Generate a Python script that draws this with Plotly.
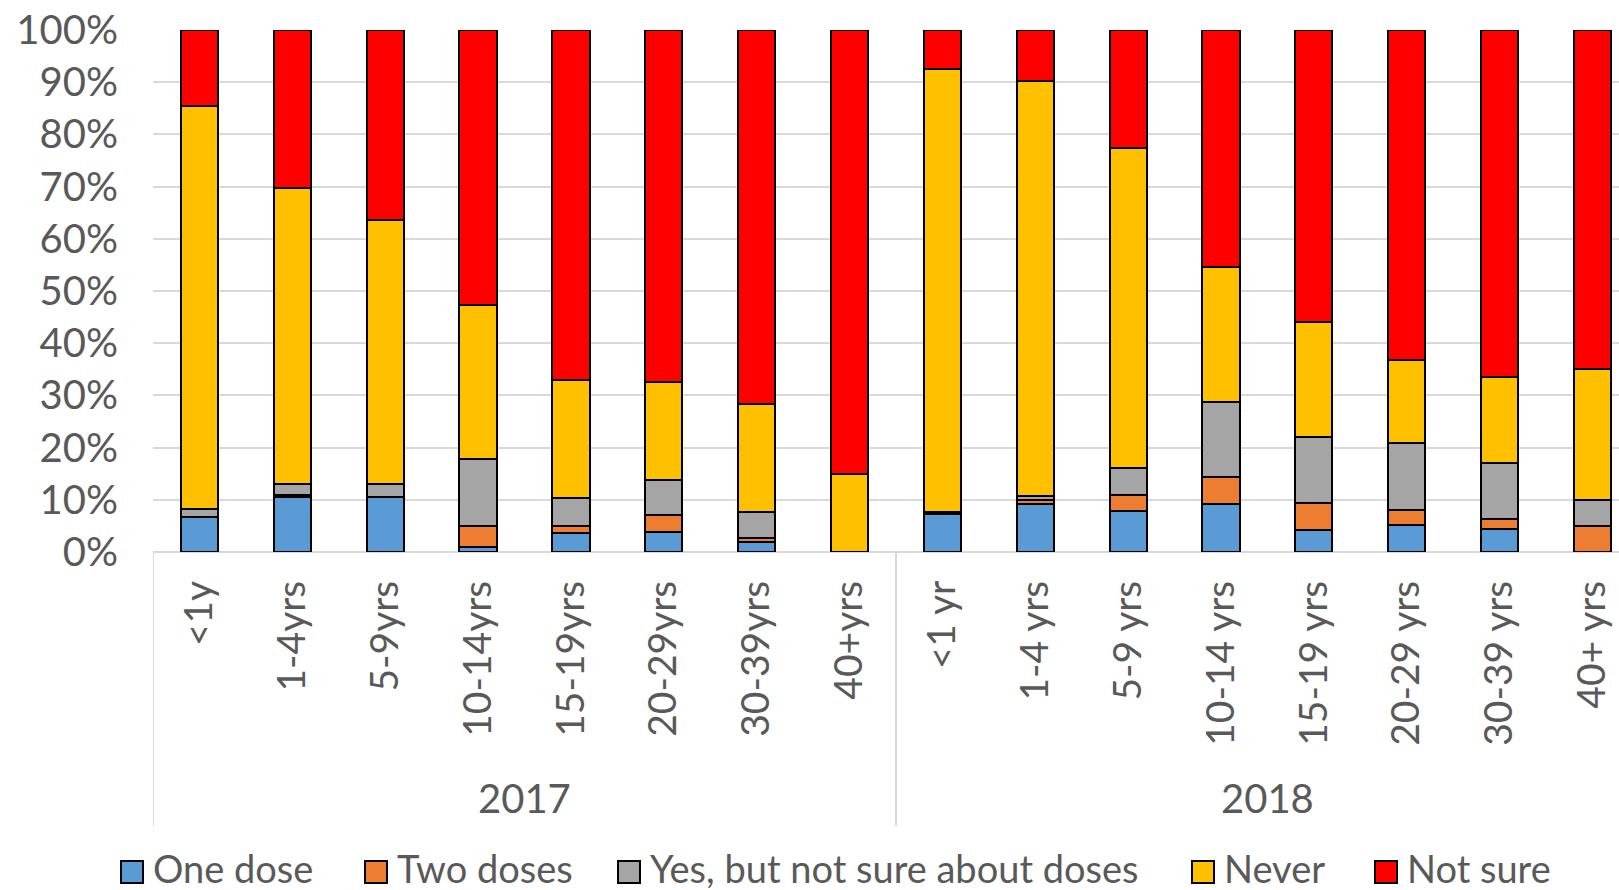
import plotly.graph_objects as go

categories = ["<1y", "1-4yrs", "5-9yrs", "10-14yrs", "15-19yrs", "20-29yrs", "30-39yrs", "40+yrs",
              "<1 yr", "1-4 yrs", "5-9 yrs", "10-14 yrs", "15-19 yrs", "20-29 yrs", "30-39 yrs", "40+ yrs"]
years = ["2017", "2018"]

one_dose = [6.8, 10.6, 10.5, 1.0, 3.7, 3.9, 2.0, 0.0, 7.3, 9.2, 7.9, 9.2, 4.2, 5.1, 4.4, 0.0]
two_doses = [0.0, 0.4, 0.0, 4.0, 1.3, 3.2, 0.6, 0.0, 0.3, 0.7, 3.1, 5.2, 5.2, 3.0, 2.0, 4.9]
not_sure_doses = [1.5, 2.0, 2.6, 12.9, 5.4, 6.7, 5.1, 0.0, 0.0, 0.9, 5.1, 14.4, 12.7, 12.7, 10.6, 5.0]
never = [77.2, 56.8, 50.5, 29.5, 22.5, 18.7, 20.6, 14.9, 85.0, 79.4, 61.3, 25.8, 22.0, 16.0, 16.5, 25.1]
not_sure = [14.5, 30.2, 36.4, 52.6, 67.1, 67.5, 71.7, 85.1, 7.4, 9.8, 22.6, 45.4, 55.9, 63.2, 66.5, 65.0]

series = [
    ("One dose", one_dose, "#5B9BD5"),
    ("Two doses", two_doses, "#ED7D31"),
    ("Yes, but not sure about doses", not_sure_doses, "#A5A5A5"),
    ("Never", never, "#FFC000"),
    ("Not sure", not_sure, "#FF0000"),
]

FONT = "Lato"
TXT = "#595959"
GRID = "#D9D9D9"

fig = go.Figure()
for name, vals, col in series:
    fig.add_trace(go.Bar(
        x=categories, y=[v / 100 for v in vals], name=name, showlegend=False,
        marker=dict(color=col, line=dict(color="black", width=2)),
    ))

W, H = 1619, 890
L, T, B = 153, 30, 338
plot_w = W - L
plot_h = H - T - B


def px_x(px):
    return (px - L) / plot_w


def px_y(py):
    return (H - B - py) / plot_h


fig.update_layout(
    width=W, height=H,
    margin=dict(l=L, r=0, t=T, b=B, pad=0, autoexpand=False),
    barmode="stack", bargap=0.6,
    plot_bgcolor="white", paper_bgcolor="white",
    font=dict(family=FONT, color=TXT, size=39),
    showlegend=False,
    xaxis=dict(type="category", range=[-0.5, 15.285], tickangle=-90, showgrid=False,
               ticks="", showline=False, tickfont=dict(size=39, color=TXT),
               ticklabelstandoff=20, automargin=False),
    yaxis=dict(range=[0, 1], tickformat=".0%", dtick=0.1, showgrid=True, gridcolor=GRID,
               gridwidth=2, zeroline=True, zerolinecolor=GRID, zerolinewidth=2,
               ticks="", showline=False, tickfont=dict(size=40, color=TXT),
               ticklabelstandoff=34, automargin=False),
)

# group separators and year labels
for xv in [-0.5, 7.5, 15.5]:
    fig.add_shape(type="line", xref="x", yref="paper", x0=xv, x1=xv, y0=0, y1=px_y(826),
                  line=dict(color=GRID, width=2))
group_centers = [3.5, 11.5]
for yr, xc in zip(years, group_centers):
    fig.add_annotation(x=xc, xref="x", y=px_y(798), yref="paper", text=yr,
                       showarrow=False, font=dict(size=40, color=TXT), yanchor="middle")

# legend (drawn manually to match spacing)
legend_sym_x = [121, 365, 618, 1192, 1375]
sym_w, sym_top, sym_bot = 22, 861, 883
for (name, _, col), sx in zip(series, legend_sym_x):
    fig.add_shape(type="rect", xref="paper", yref="paper",
                  x0=px_x(sx), x1=px_x(sx + sym_w), y0=px_y(sym_bot), y1=px_y(sym_top),
                  fillcolor=col, line=dict(color="black", width=2))
    fig.add_annotation(x=px_x(sx + sym_w + 8), y=px_y(868), xref="paper", yref="paper",
                       text=name, showarrow=False, xanchor="left", yanchor="middle",
                       font=dict(size=38, color=TXT))

fig.write_html("out.html")
